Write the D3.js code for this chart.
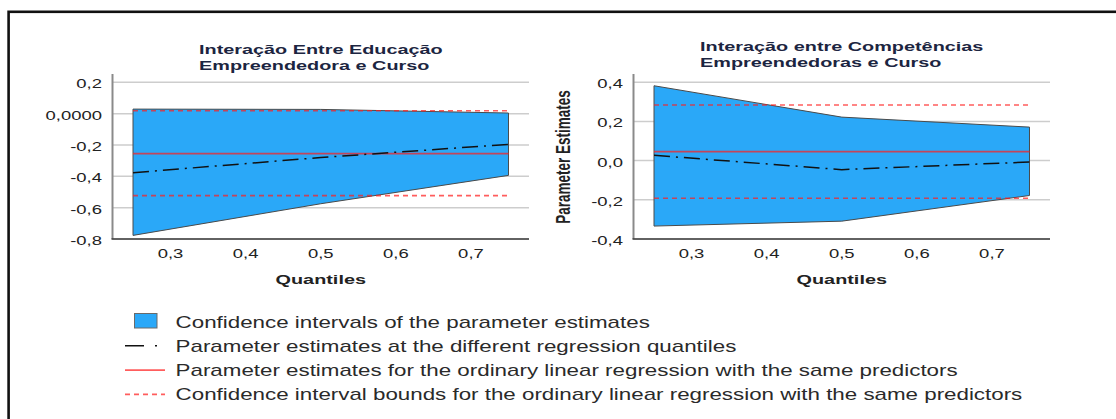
<!DOCTYPE html>
<html>
<head>
<meta charset="utf-8">
<script src="https://cdn.jsdelivr.net/npm/d3@7"></script>
<style>
  html, body { margin: 0; padding: 0; background: #fff; }
  svg { display: block; }
  text { font-family: "Liberation Sans", Arial, sans-serif; }
</style>
</head>
<body>
<svg id="chart" width="1116" height="419"></svg>
<script>
// Quantile regression plots: confidence bands of the interaction terms
const quantiles = [0.25, 0.5, 0.75];
const xTicks = [0.3, 0.4, 0.5, 0.6, 0.7];
const xTickLabels = ["0,3", "0,4", "0,5", "0,6", "0,7"];

// Interação Entre Educação Empreendedora e Curso
const eduTitle = ["Interação Entre Educação", "Empreendedora e Curso"];
const eduUpper = [0.029, 0.027, 0.004];
const eduLower = [-0.777, -0.575, -0.394];
const eduEstimate = [-0.377, -0.28, -0.196];
const eduOls = -0.255;
const eduOlsBounds = [-0.523, 0.018];
const eduYTicks = [0.2, 0, -0.2, -0.4, -0.6, -0.8];
const eduYTickLabels = ["0,2", "0,0000", "-0,2", "-0,4", "-0,6", "-0,8"];

// Interação entre Competências Empreendedoras e Curso
const compTitle = ["Interação entre Competências", "Empreendedoras e Curso"];
const compUpper = [0.382, 0.222, 0.171];
const compLower = [-0.334, -0.309, -0.178];
const compEstimate = [0.027, -0.046, -0.007];
const compOls = 0.046;
const compOlsBounds = [-0.192, 0.284];
const compYTicks = [0.4, 0.2, 0, -0.2, -0.4];
const compYTickLabels = ["0,4", "0,2", "0,0", "-0,2", "-0,4"];

const xAxisTitle = "Quantiles";
const yAxisTitle = "Parameter Estimates";

const legendLabels = [
  "Confidence intervals of the parameter estimates",
  "Parameter estimates at the different regression quantiles",
  "Parameter estimates for the ordinary linear regression with the same predictors",
  "Confidence interval bounds for the ordinary linear regression with the same predictors"
];

// ---- styling ----
const BAND = "#2aa8f8";
const RED = "#ff1f1f";
const GRID = "#cdcdcd";
const TEXT = "#222";
const TITLE = "#1c2541";
const WIDE = 1.42;      // horizontal widening of regular text
const WIDE_BOLD = 1.47; // horizontal widening of bold text
const WIDE_LEGEND = 1.397;

const svg = d3.select("#chart");

// outer frame (continues past the right and bottom edges)
svg.append("rect")
  .attr("x", 8.6).attr("y", 11.8)
  .attr("width", 1300).attr("height", 600)
  .attr("fill", "none").attr("stroke", "#111").attr("stroke-width", 2.6);

function label(g, x, y, str, opts = {}) {
  const k = opts.k || WIDE;
  return g.append("text")
    .attr("transform", `translate(${x},${y}) scale(${k},1)`)
    .attr("text-anchor", opts.anchor || "start")
    .attr("font-size", opts.size || 13)
    .attr("font-weight", opts.bold ? "bold" : "normal")
    .attr("fill", opts.fill || TEXT)
    .text(str);
}

const xDomain = [0.2227, 0.7773];

const panels = [
  {
    title: eduTitle, upper: eduUpper, lower: eduLower, est: eduEstimate,
    ols: eduOls, olsBounds: eduOlsBounds,
    yTicks: eduYTicks, yTickLabels: eduYTickLabels,
    yDomain: [-0.8, 0.253], xRange: [112.5, 529], titleX: 199, titleY: [53.5, 70],
    yTitle: false
  },
  {
    title: compTitle, upper: compUpper, lower: compLower, est: compEstimate,
    ols: compOls, olsBounds: compOlsBounds,
    yTicks: compYTicks, yTickLabels: compYTickLabels,
    yDomain: [-0.4, 0.442], xRange: [633.5, 1050], titleX: 700, titleY: [50.5, 66.7],
    yTitle: true
  }
];

const yRange = [239, 74];

panels.forEach(p => {
  const g = svg.append("g");
  const x = d3.scaleLinear().domain(xDomain).range(p.xRange);
  const y = d3.scaleLinear().domain(p.yDomain).range(yRange);

  // gridlines
  g.append("g").selectAll("line").data(p.yTicks).join("line")
    .attr("x1", p.xRange[0]).attr("x2", p.xRange[1])
    .attr("y1", d => y(d)).attr("y2", d => y(d))
    .attr("stroke", GRID).attr("stroke-width", 1.5);

  // confidence band of the quantile estimates
  const rows = quantiles.map((q, i) => ({ q, lo: p.lower[i], hi: p.upper[i], est: p.est[i] }));
  g.append("path").datum(rows)
    .attr("d", d3.area().x(d => x(d.q)).y0(d => y(d.lo)).y1(d => y(d.hi)))
    .attr("fill", BAND).attr("stroke", "#4a4a4a").attr("stroke-width", 1);

  // OLS estimate and its confidence bounds
  const q0 = quantiles[0], q1 = quantiles[quantiles.length - 1];
  g.append("line")
    .attr("x1", x(q0)).attr("x2", x(q1))
    .attr("y1", y(p.ols)).attr("y2", y(p.ols))
    .attr("stroke", RED).attr("stroke-opacity", 0.72).attr("stroke-width", 1.6);
  g.append("g").selectAll("line").data(p.olsBounds).join("line")
    .attr("x1", x(q0)).attr("x2", x(q1))
    .attr("y1", d => y(d)).attr("y2", d => y(d))
    .attr("stroke", RED).attr("stroke-opacity", 0.72).attr("stroke-width", 1.6)
    .attr("stroke-dasharray", "5,4");

  // quantile estimates (dash-dot)
  g.append("path").datum(rows)
    .attr("d", d3.line().x(d => x(d.q)).y(d => y(d.est)))
    .attr("fill", "none").attr("stroke", "#111").attr("stroke-width", 1.5)
    .attr("stroke-dasharray", "16,6,2,6");

  // axes lines
  g.append("line")
    .attr("x1", p.xRange[0]).attr("x2", p.xRange[0])
    .attr("y1", yRange[1]).attr("y2", yRange[0])
    .attr("stroke", "#8a8a8a").attr("stroke-width", 2);
  g.append("line")
    .attr("x1", p.xRange[0] - 1).attr("x2", p.xRange[1])
    .attr("y1", yRange[0]).attr("y2", yRange[0])
    .attr("stroke", "#3a3a3a").attr("stroke-width", 1.6);

  // y tick labels
  p.yTicks.forEach((t, i) => {
    label(g, p.xRange[0] - 10.5, y(t) + 6, p.yTickLabels[i], { anchor: "end", size: 13 });
  });
  // x tick labels
  xTicks.forEach((t, i) => {
    label(g, x(t), 257.5, xTickLabels[i], { anchor: "middle", size: 13 });
  });

  // x axis title
  label(g, (p.xRange[0] + p.xRange[1]) / 2, 284, xAxisTitle,
    { anchor: "middle", size: 13.5, bold: true, k: WIDE_BOLD });

  // panel title
  p.title.forEach((line, i) => {
    label(g, p.titleX, p.titleY[i], line,
      { size: 13.5, bold: true, k: WIDE_BOLD, fill: TITLE });
  });

  // y axis title
  if (p.yTitle) {
    g.append("text")
      .attr("transform", `translate(570,${(yRange[0] + yRange[1]) / 2 + 0.5}) scale(${WIDE_BOLD},1) rotate(-90)`)
      .attr("text-anchor", "middle")
      .attr("font-size", 13.5).attr("font-weight", "bold").attr("fill", TEXT)
      .text(yAxisTitle);
  }
});

// ---- legend ----
const legend = svg.append("g");
const rowY = [321.5, 345.8, 370.1, 394.4];
const symX = [125, 165];
legendLabels.forEach((txt, i) => {
  label(legend, 175.6, rowY[i] + 6, txt, { size: 16, k: WIDE_LEGEND, fill: "#2a2a2a" });
});
legend.append("rect")
  .attr("x", 134.5).attr("y", rowY[0] - 8).attr("width", 22.5).attr("height", 14.5)
  .attr("fill", BAND).attr("stroke", "#6a6a6a").attr("stroke-width", 1);
legend.append("line")
  .attr("x1", symX[0]).attr("x2", symX[1]).attr("y1", rowY[1]).attr("y2", rowY[1])
  .attr("stroke", "#111").attr("stroke-width", 1.5).attr("stroke-dasharray", "19,11,2,20");
legend.append("line")
  .attr("x1", symX[0]).attr("x2", symX[1]).attr("y1", rowY[2]).attr("y2", rowY[2])
  .attr("stroke", RED).attr("stroke-opacity", 0.72).attr("stroke-width", 1.6);
legend.append("line")
  .attr("x1", symX[0]).attr("x2", symX[1]).attr("y1", rowY[3]).attr("y2", rowY[3])
  .attr("stroke", RED).attr("stroke-opacity", 0.72).attr("stroke-width", 1.6)
  .attr("stroke-dasharray", "5,4");
</script>
</body>
</html>
